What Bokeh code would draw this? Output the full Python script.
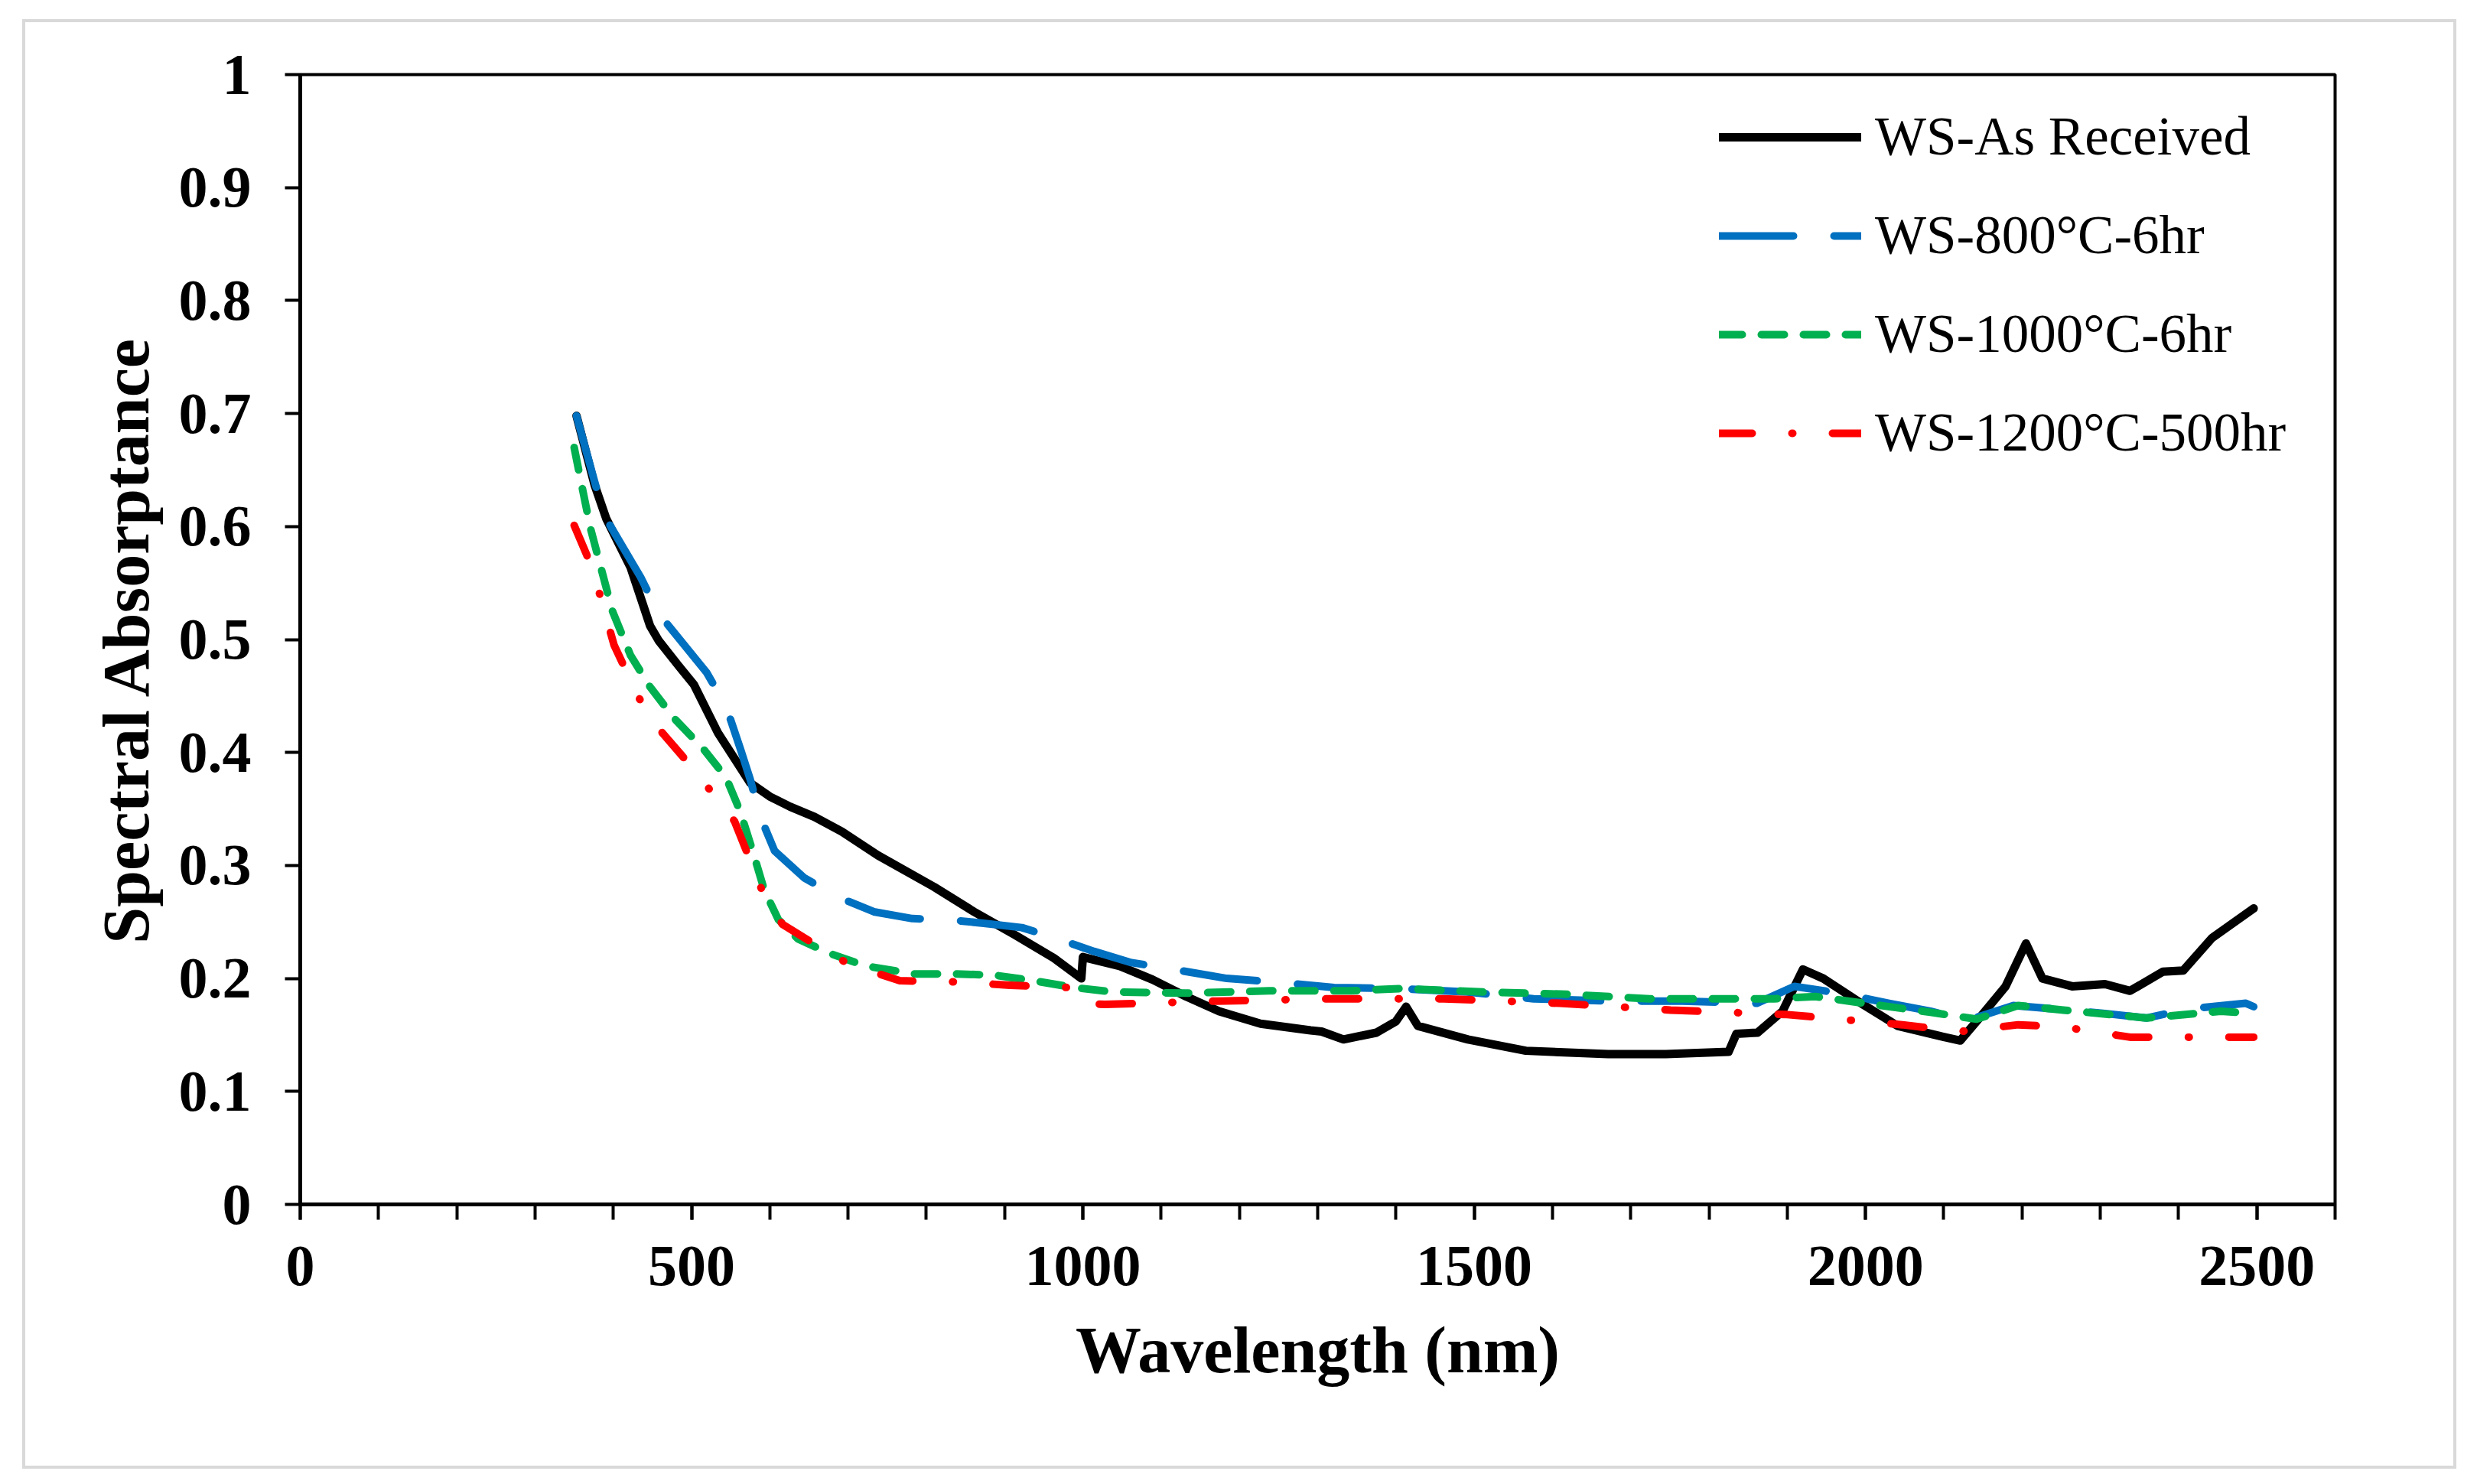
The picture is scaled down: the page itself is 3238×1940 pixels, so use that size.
from bokeh.plotting import figure
from bokeh.models import (Column, Legend, LegendItem, SingleIntervalTicker,
                          FixedTicker)
from bokeh.embed import file_html
from bokeh.resources import INLINE

# Spectral absorptance curves
wl_as_received = [353, 376, 391, 422, 447, 458, 483, 503, 534, 575, 600, 626, 657, 692, 738, 810,
                  861, 912, 963, 998, 1000, 1047, 1089, 1132, 1174, 1227, 1291, 1305, 1333, 1375,
                  1400, 1413, 1428, 1492, 1566, 1671, 1745, 1825, 1835, 1862, 1894, 1920, 1946,
                  1999, 2041, 2095, 2121, 2148, 2179, 2205, 2226, 2264, 2306, 2338, 2380, 2406,
                  2443, 2496]
abs_as_received = [0.698, 0.637, 0.607, 0.564, 0.512, 0.499, 0.477, 0.460, 0.417, 0.373, 0.361,
                   0.352, 0.343, 0.330, 0.309, 0.281, 0.259, 0.239, 0.218, 0.200, 0.219, 0.211,
                   0.199, 0.184, 0.171, 0.160, 0.154, 0.153, 0.146, 0.152, 0.162, 0.175, 0.158,
                   0.146, 0.136, 0.133, 0.133, 0.135, 0.151, 0.152, 0.171, 0.208, 0.200, 0.176,
                   0.158, 0.149, 0.145, 0.167, 0.193, 0.231, 0.200, 0.193, 0.195, 0.189, 0.206,
                   0.207, 0.236, 0.262]

wl_800 = [353, 376, 389, 435, 458, 519, 544, 562, 575, 588, 606, 644, 687, 733, 782, 828, 871,
          922, 968, 1014, 1062, 1099, 1184, 1242, 1321, 1406, 1491, 1576, 1671, 1766, 1861, 1909,
          1967, 2030, 2083, 2131, 2189, 2242, 2306, 2359, 2412, 2486, 2496]
abs_800 = [0.698, 0.640, 0.609, 0.555, 0.523, 0.471, 0.441, 0.404, 0.376, 0.343, 0.313, 0.289,
           0.272, 0.259, 0.253, 0.252, 0.249, 0.245, 0.235, 0.224, 0.214, 0.210, 0.200, 0.197,
           0.192, 0.191, 0.188, 0.182, 0.180, 0.180, 0.178, 0.193, 0.187, 0.178, 0.171, 0.163,
           0.176, 0.173, 0.169, 0.165, 0.173, 0.178, 0.175]

wl_1000 = [350, 358, 371, 384, 399, 422, 447, 478, 514, 544, 562, 578, 593, 611, 636, 677, 723,
           784, 835, 886, 937, 988, 1039, 1132, 1238, 1342, 1406, 1511, 1618, 1724, 1830, 1883,
           1936, 1999, 2083, 2142, 2195, 2253, 2359, 2454, 2496]
abs_1000 = [0.670, 0.642, 0.598, 0.564, 0.525, 0.486, 0.458, 0.430, 0.404, 0.378, 0.348, 0.313,
            0.278, 0.252, 0.235, 0.222, 0.211, 0.204, 0.204, 0.203, 0.198, 0.192, 0.188, 0.187,
            0.189, 0.189, 0.191, 0.188, 0.186, 0.182, 0.182, 0.182, 0.184, 0.178, 0.170, 0.164,
            0.176, 0.172, 0.165, 0.171, 0.169]

wl_1200 = [350, 366, 381, 401, 432, 463, 488, 521, 555, 570, 590, 616, 651, 700, 766, 835, 907,
           981, 1000, 1028, 1171, 1319, 1461, 1609, 1751, 1900, 2047, 2121, 2195, 2253, 2338, 2496]
abs_1200 = [0.601, 0.575, 0.544, 0.495, 0.449, 0.417, 0.397, 0.369, 0.339, 0.313, 0.278, 0.248,
            0.233, 0.213, 0.198, 0.197, 0.194, 0.192, 0.178, 0.177, 0.180, 0.182, 0.182, 0.178,
            0.172, 0.168, 0.159, 0.153, 0.159, 0.157, 0.148, 0.148]

labels = ["WS-As Received", "WS-800°C-6hr", "WS-1000°C-6hr", "WS-1200°C-500hr"]
y_ticks = [0, 0.1, 0.2, 0.3, 0.4, 0.5, 0.6, 0.7, 0.8, 0.9, 1]

serif = "Liberation Serif"

p = figure(width=3174, height=1887, x_range=(0, 2600), y_range=(0, 1),
           output_backend="svg", toolbar_location=None,
           min_border_left=359, min_border_top=68, min_border_right=155, min_border_bottom=342)
p.xgrid.visible = False
p.ygrid.visible = False
p.outline_line_color = "black"
p.outline_line_width = 4
p.background_fill_color = "white"
p.border_fill_color = "white"

# curves
r_as = p.line(wl_as_received, abs_as_received, line_color="black", line_width=11,
              line_join="round", line_cap="round")
r_800 = p.line(wl_800, abs_800, line_color="#0070C0", line_width=10, line_dash="97 53",
               line_cap="round", line_join="round")
r_1000 = p.line(wl_1000, abs_1000, line_color="#00B050", line_width=10, line_dash="30 25",
                line_cap="round", line_join="round")
r_1200 = p.line(wl_1200, abs_1200, line_color="#FF0000", line_width=10, line_dash="43 52 1 52",
                line_cap="round", line_join="round")

# axes
p.xaxis.ticker = SingleIntervalTicker(interval=500, num_minor_ticks=5)
p.yaxis.ticker = FixedTicker(ticks=y_ticks)
for ax in [p.xaxis[0], p.yaxis[0]]:
    ax.axis_line_color = "black"
    ax.axis_line_width = 5
    ax.major_tick_line_color = "black"
    ax.major_tick_line_width = 4
    ax.major_tick_in = 0
    ax.major_tick_out = 20
    ax.minor_tick_line_color = "black"
    ax.minor_tick_line_width = 4
    ax.minor_tick_in = 0
    ax.minor_tick_out = 20
    ax.major_label_text_font = serif
    ax.major_label_text_font_style = "bold"
    ax.major_label_text_color = "black"
    ax.major_label_text_font_size = "76px"
    ax.axis_label_text_font = serif
    ax.axis_label_text_font_style = "bold"
    ax.axis_label_text_color = "black"
    ax.axis_label_text_font_size = "86px"

p.xaxis.major_label_standoff = 35
p.yaxis.major_label_standoff = 44
p.yaxis.minor_tick_out = 0
p.xaxis.axis_label = "Wavelength (nm)"
p.yaxis.axis_label = "Spectral Absorptance"
p.xaxis.axis_label_standoff = 34
p.yaxis.axis_label_standoff = 18

legend = Legend(items=[LegendItem(label=labels[0], renderers=[r_as]),
                       LegendItem(label=labels[1], renderers=[r_800]),
                       LegendItem(label=labels[2], renderers=[r_1000]),
                       LegendItem(label=labels[3], renderers=[r_1200])],
                location=(1845, 958))
legend.label_text_font = serif
legend.label_text_font_size = "71px"
legend.label_text_color = "black"
legend.glyph_width = 186
legend.glyph_height = 70
legend.label_height = 70
legend.spacing = 48
legend.padding = 10
legend.label_standoff = 18
legend.border_line_alpha = 0
legend.background_fill_alpha = 0
p.add_layout(legend)

layout = Column(p, margin=(25, 0, 0, 29),
                styles={"border": "4px solid #d9d9d9", "background": "white"})

open("out.html", "w").write(file_html(layout, INLINE))
